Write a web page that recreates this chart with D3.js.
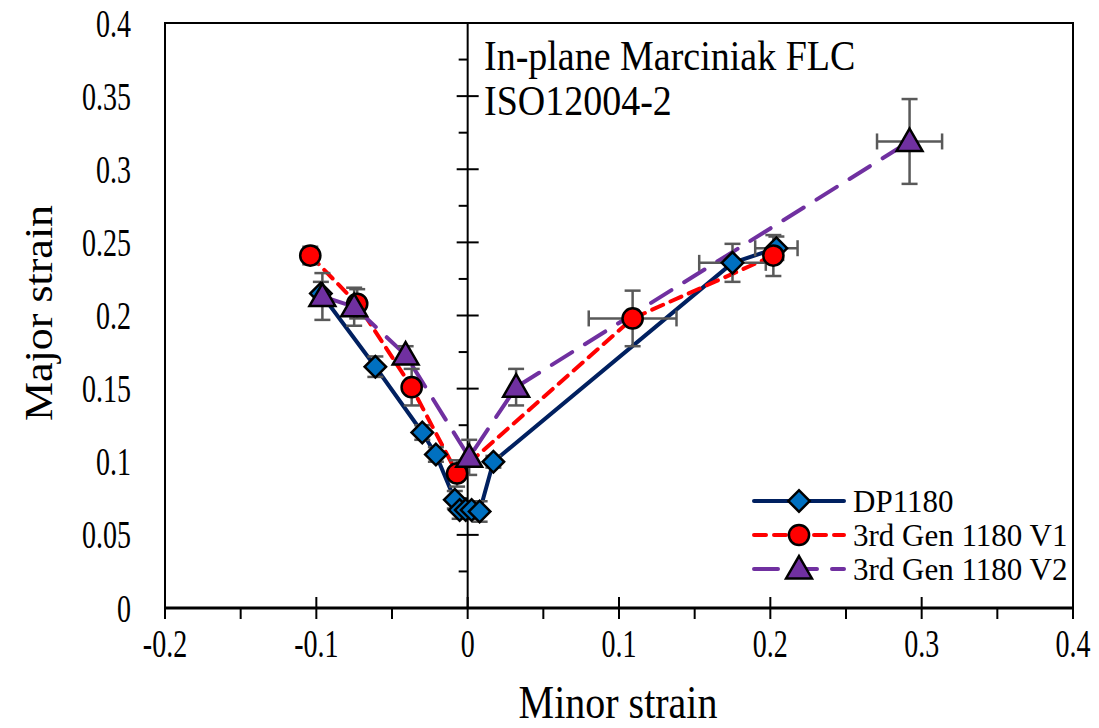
<!DOCTYPE html>
<html><head><meta charset="utf-8">
<script src="https://cdn.jsdelivr.net/npm/d3@7"></script>
<style>body{margin:0;background:#fff}svg{display:block}text{font-family:"Liberation Serif","Times New Roman",serif;fill:#000}</style>
</head><body>
<svg id="c" width="1099" height="728"></svg>
<script>
// ---- data ----
const xTicks = [-0.2, -0.1, 0, 0.1, 0.2, 0.3, 0.4];
const yTicks = [0, 0.05, 0.1, 0.15, 0.2, 0.25, 0.3, 0.35, 0.4];

const dpX    = [-0.097, -0.061, -0.030, -0.021, -0.0085, -0.0053, -0.0013, 0.0026, 0.0079, 0.017, 0.175, 0.204];
const dpY    = [0.215, 0.165, 0.120, 0.105, 0.074, 0.067, 0.067, 0.067, 0.066, 0.100, 0.236, 0.246];
const dpYErr = [0.008, 0.007, 0.005, 0.005, 0.006, 0.006, 0.006, 0.006, 0.007, 0.004, 0.013, 0.008];
const dpXErr = [0, 0, 0, 0, 0, 0, 0, 0, 0, 0, 0.022, 0.014];

const v1X    = [-0.104, -0.073, -0.037, -0.007, 0.109, 0.202];
const v1Y    = [0.241, 0.208, 0.151, 0.092, 0.198, 0.241];
const v1YErr = [0.006, 0.010, 0.0125, 0.009, 0.019, 0.014];
const v1XErr = [0, 0, 0, 0, 0.029, 0];

const v2X    = [-0.096, -0.075, -0.041, 0.001, 0.032, 0.292];
const v2Y    = [0.213, 0.206, 0.173, 0.103, 0.151, 0.319];
const v2YErr = [0.016, 0.013, 0.006, 0.012, 0.0125, 0.029];
const v2XErr = [0, 0, 0, 0, 0, 0.0215];

const seriesNames = ["DP1180", "3rd Gen 1180 V1", "3rd Gen 1180 V2"];
const annotation = ["In-plane Marciniak FLC", "ISO12004-2"];

// ---- layout ----
const svg = d3.select("#c");
const L = 165, R = 1073, T = 23, B = 608;
const x = d3.scaleLinear().domain([-0.2, 0.4]).range([L, R]);
const y = d3.scaleLinear().domain([0, 0.4]).range([B, T]);
const fmt = d => d3.format("")(d).replace("\u2212", "-");

const series = [
  {name: seriesNames[0], xs: dpX, ys: dpY, ye: dpYErr, xe: dpXErr, stroke: "#002060", fill: "#0070C0", dash: null, sym: d3.symbolSquare, size: 230, rot: 45, dy: 0},
  {name: seriesNames[1], xs: v1X, ys: v1Y, ye: v1YErr, xe: v1XErr, stroke: "#FF0000", fill: "#FF0000", dash: "12,8", sym: d3.symbolCircle, size: 320, rot: 0, dy: 0},
  {name: seriesNames[2], xs: v2X, ys: v2Y, ye: v2YErr, xe: v2XErr, stroke: "#7030A0", fill: "#7030A0", dash: "24,15", sym: d3.symbolTriangle, size: 290, rot: 0, dy: 2}
];

// frame
svg.append("rect").attr("x", L).attr("y", T).attr("width", R - L).attr("height", B - T)
  .attr("fill", "none").attr("stroke", "#000").attr("stroke-width", 2);
svg.append("line").attr("x1", L - 1).attr("x2", R + 1).attr("y1", B).attr("y2", B)
  .attr("stroke", "#000").attr("stroke-width", 3);

// x axis ticks (major crossing, minor below)
const xMinor = d3.range(-0.15, 0.4, 0.1);
xTicks.forEach(v => svg.append("line").attr("x1", x(v)).attr("x2", x(v)).attr("y1", B - 11).attr("y2", B + 11).attr("stroke", "#000").attr("stroke-width", 2));
xMinor.forEach(v => svg.append("line").attr("x1", x(v)).attr("x2", x(v)).attr("y1", B).attr("y2", B + 11).attr("stroke", "#000").attr("stroke-width", 2));
svg.append("g").selectAll("text").data(xTicks).join("text")
  .attr("text-anchor", "middle").attr("font-size", 28)
  .attr("transform", d => `translate(${x(d)},657) scale(1,1.45)`)
  .text(fmt);

// y axis at x=0
const x0 = x(0);
svg.append("line").attr("x1", x0).attr("x2", x0).attr("y1", T).attr("y2", B).attr("stroke", "#000").attr("stroke-width", 2);
const yMinor = d3.range(0.025, 0.4, 0.05);
yTicks.forEach(v => svg.append("line").attr("x1", x0 - 11).attr("x2", x0 + 11).attr("y1", y(v)).attr("y2", y(v)).attr("stroke", "#000").attr("stroke-width", 2));
yMinor.forEach(v => svg.append("line").attr("x1", x0 - 9).attr("x2", x0).attr("y1", y(v)).attr("y2", y(v)).attr("stroke", "#000").attr("stroke-width", 2));
svg.append("g").selectAll("text").data(yTicks).join("text")
  .attr("text-anchor", "end").attr("font-size", 28)
  .attr("transform", d => `translate(131,${y(d) + 13.5}) scale(1,1.45)`)
  .text(fmt);

// titles
svg.append("text").attr("transform", "translate(618,718) scale(1,1.15)").attr("text-anchor", "middle").attr("font-size", 40).text("Minor strain");
svg.append("text").attr("transform", "translate(52,313) rotate(-90) scale(1.1,1)").attr("text-anchor", "middle").attr("font-size", 40).text("Major strain");

// annotation
annotation.forEach((t, i) => svg.append("text").attr("transform", `translate(484,${70 + i * 45}) scale(1,1.1)`).attr("font-size", 38).text(t));

const line = d3.line().x(d => x(d[0])).y(d => y(d[1]));

// lines
series.forEach(s => {
  svg.append("path").datum(s.xs.map((v, i) => [v, s.ys[i]])).attr("d", line)
    .attr("fill", "none").attr("stroke", s.stroke).attr("stroke-width", 4)
    .attr("stroke-dasharray", s.dash).attr("stroke-linejoin", "round").attr("stroke-linecap", s.dash ? "round" : "butt");
});

// error bars
const eb = svg.append("g").attr("stroke", "#595959").attr("stroke-width", 2.5).attr("fill", "none");
const cap = 8;
series.forEach(s => {
  s.xs.forEach((xv, i) => {
    const yv = s.ys[i];
    if (s.ye[i] > 0) {
      const y1 = y(yv + s.ye[i]), y2 = y(yv - s.ye[i]), cx = x(xv);
      eb.append("line").attr("x1", cx).attr("x2", cx).attr("y1", y1).attr("y2", y2);
      eb.append("line").attr("x1", cx - cap).attr("x2", cx + cap).attr("y1", y1).attr("y2", y1);
      eb.append("line").attr("x1", cx - cap).attr("x2", cx + cap).attr("y1", y2).attr("y2", y2);
    }
    if (s.xe[i] > 0) {
      const xa = x(xv - s.xe[i]), xb = x(xv + s.xe[i]), cy = y(yv);
      eb.append("line").attr("x1", xa).attr("x2", xb).attr("y1", cy).attr("y2", cy);
      eb.append("line").attr("x1", xa).attr("x2", xa).attr("y1", cy - cap).attr("y2", cy + cap);
      eb.append("line").attr("x1", xb).attr("x2", xb).attr("y1", cy - cap).attr("y2", cy + cap);
    }
  });
});

// markers
series.forEach(s => {
  const sym = d3.symbol().type(s.sym).size(s.size);
  svg.append("g").selectAll("path").data(s.xs.map((v, i) => [v, s.ys[i]])).join("path")
    .attr("d", sym).attr("transform", d => `translate(${x(d[0])},${y(d[1]) + s.dy}) rotate(${s.rot})`)
    .attr("fill", s.fill).attr("stroke", "#000").attr("stroke-width", 2.5);
});

// legend
const lg = svg.append("g");
const rows = [501, 535, 569];
series.forEach((s, i) => {
  const yy = rows[i];
  lg.append("line").attr("x1", 754).attr("x2", 844).attr("y1", yy).attr("y2", yy)
    .attr("stroke", s.stroke).attr("stroke-width", 4).attr("stroke-dasharray", s.dash).attr("stroke-linecap", "round");
  lg.append("path").attr("d", d3.symbol().type(s.sym).size(s.size)())
    .attr("transform", `translate(799,${yy + s.dy}) rotate(${s.rot})`)
    .attr("fill", s.fill).attr("stroke", "#000").attr("stroke-width", 2.5);
  lg.append("text").attr("x", 853).attr("y", yy + 11).attr("font-size", 31).text(s.name);
});
</script>
</body></html>
